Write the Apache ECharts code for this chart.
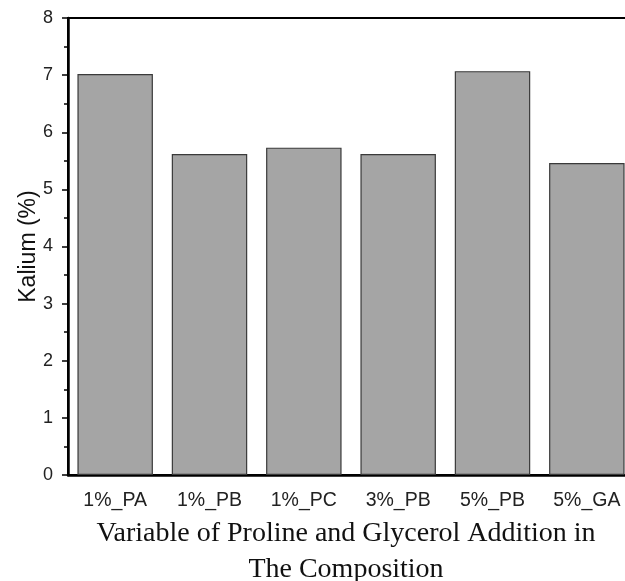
<!DOCTYPE html>
<html>
<head>
<meta charset="utf-8">
<script src="https://cdn.jsdelivr.net/npm/echarts@6/dist/echarts.min.js"></script>
<style>
    html, body { margin: 0; padding: 0; background: #fff; }
    /* the plot runs past the right edge of the picture, so clip a wider chart */
    #wrap { width: 625px; height: 581px; overflow: hidden; position: relative; }
    #chart { width: 640px; height: 581px; position: absolute; left: 0; top: 0; }
</style>
</head>
<body>
<div id="wrap"><div id="chart"></div></div>
<script>
// categories and values
var categories = ['1%_PA', '1%_PB', '1%_PC', '3%_PB', '5%_PB', '5%_GA'];
var kalium = [7.02, 5.62, 5.73, 5.62, 7.07, 5.46];
var yTicks = [0, 1, 2, 3, 4, 5, 6, 7, 8];

var option = {
    animation: false,
    backgroundColor: '#ffffff',
    grid: {
        show: true,
        left: 68,
        right: 6,
        top: 18,
        bottom: 106,
        outerBoundsMode: 'none',
        borderColor: '#000',
        borderWidth: 2,
        backgroundColor: 'transparent'
    },
    xAxis: [
        {
            type: 'category',
            data: categories,
            name: 'Variable of Proline and Glycerol Addition in\nThe Composition',
            nameLocation: 'middle',
            nameMoveOverlap: false,
            nameGap: 41,
            nameTextStyle: {
                fontFamily: 'Liberation Serif',
                fontSize: 28,
                lineHeight: 36,
                color: '#111',
                padding: [0, 10, 0, 0]
            },
            axisLine: { lineStyle: { color: '#000', width: 2.5 } },
            axisTick: { alignWithLabel: true, length: 5, lineStyle: { color: '#000', width: 1.5 } },
            axisLabel: {
                fontFamily: 'Liberation Sans',
                fontSize: 19.5,
                color: '#222',
                margin: 16
            }
        },
        {
            // small ticks between categories
            type: 'category',
            data: categories,
            position: 'bottom',
            axisLine: { show: false },
            axisTick: { length: 3, lineStyle: { color: '#000', width: 1.5 } },
            axisLabel: { show: false }
        }
    ],
    yAxis: {
        type: 'value',
        min: yTicks[0],
        max: yTicks[yTicks.length - 1],
        interval: 1,
        name: 'Kalium (%)',
        nameLocation: 'middle',
        nameMoveOverlap: false,
        nameGap: 28,
        nameTextStyle: {
            fontFamily: 'Liberation Sans',
            fontSize: 23,
            color: '#111'
        },
        axisLine: { show: true, lineStyle: { color: '#000', width: 2.5 } },
        axisTick: { show: true, length: 6, lineStyle: { color: '#000', width: 1.5 } },
        minorTick: { show: true, splitNumber: 2, length: 4, lineStyle: { color: '#000', width: 1.5 } },
        splitLine: { show: false },
        axisLabel: {
            fontFamily: 'Liberation Sans',
            fontSize: 18,
            color: '#222',
            margin: 15
        }
    },
    series: [{
        type: 'bar',
        data: kalium,
        barCategoryGap: '20%',
        itemStyle: {
            color: '#a5a5a5',
            borderColor: '#3a3a3a',
            borderWidth: 1.2
        }
    }]
};

var chart = echarts.init(document.getElementById('chart'));
chart.setOption(option);
</script>
</body>
</html>
